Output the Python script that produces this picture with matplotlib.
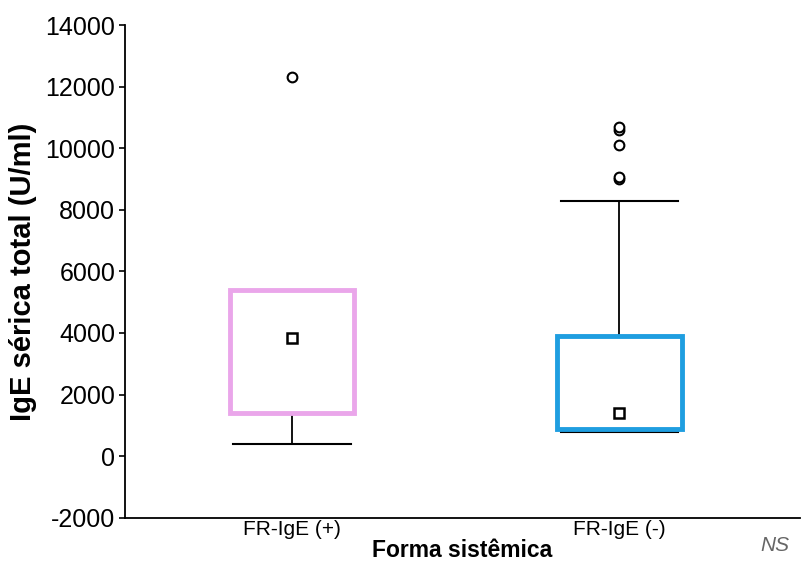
import matplotlib
matplotlib.use("Agg")
import matplotlib.pyplot as plt

plt.rcParams['font.family'] = ['Liberation Sans', 'DejaVu Sans']

groups = ['FR-IgE (+)', 'FR-IgE (-)']
q1 = [1400, 880]
q3 = [5400, 3900]
whislo = [400, 780]
whishi = [5400, 8300]
means = [3850, 1400]
fliers = [[12300], [9000, 9050, 10100, 10600, 10700]]
box_colors = ['#eaa6ea', '#1f9ee0']

stats = []
for i in range(len(groups)):
    stats.append(dict(label=groups[i], q1=q1[i], q3=q3[i], med=q1[i],
                      whislo=whislo[i], whishi=whishi[i],
                      mean=means[i], fliers=fliers[i]))

fig = plt.figure(figsize=(8.11, 5.83), dpi=100)
ax = fig.add_axes([0.154, 0.112, 0.832, 0.845])

bp = ax.bxp(stats, positions=[1, 2], widths=0.38, showmeans=True,
            patch_artist=True,
            boxprops=dict(linewidth=3.5, facecolor='white'),
            medianprops=dict(linewidth=0),
            whiskerprops=dict(color='black', linewidth=1.3),
            capprops=dict(color='black', linewidth=1.5),
            capwidths=0.36,
            meanprops=dict(marker='s', markerfacecolor='white',
                           markeredgecolor='black', markersize=7,
                           markeredgewidth=1.8),
            flierprops=dict(marker='o', markerfacecolor='white',
                            markeredgecolor='black', markersize=7,
                            markeredgewidth=1.5))
for patch, c in zip(bp['boxes'], box_colors):
    patch.set_edgecolor(c)
    patch.set_zorder(3)
# upper whisker of the first group coincides with the box top
bp['caps'][1].set_visible(False)
bp['whiskers'][1].set_visible(False)
for m in bp['means'] + bp['fliers']:
    m.set_zorder(4)

ax.set_xlim(0.49, 2.55)
ax.set_ylim(-2000, 14000)
ax.set_yticks(range(-2000, 14001, 2000))
ax.set_yticklabels([str(v) for v in range(-2000, 14001, 2000)])
ax.spines['top'].set_visible(False)
ax.spines['right'].set_visible(False)
ax.spines['left'].set_linewidth(1.3)
ax.spines['bottom'].set_linewidth(1.3)
ax.tick_params(axis='y', labelsize=18, length=4, width=1.2, pad=3)
ax.tick_params(axis='x', labelsize=15, length=0, pad=2)

ax.set_ylabel('IgE sérica total (U/ml)', fontsize=21, fontweight='bold',
              labelpad=6)
ax.set_xlabel('Forma sistêmica', fontsize=16.5, fontweight='bold', labelpad=0)

fig.text(0.955, 0.065, 'NS', fontsize=15, color='#666666', style='italic',
         ha='center', va='center')

fig.savefig('out.png', dpi=100)
